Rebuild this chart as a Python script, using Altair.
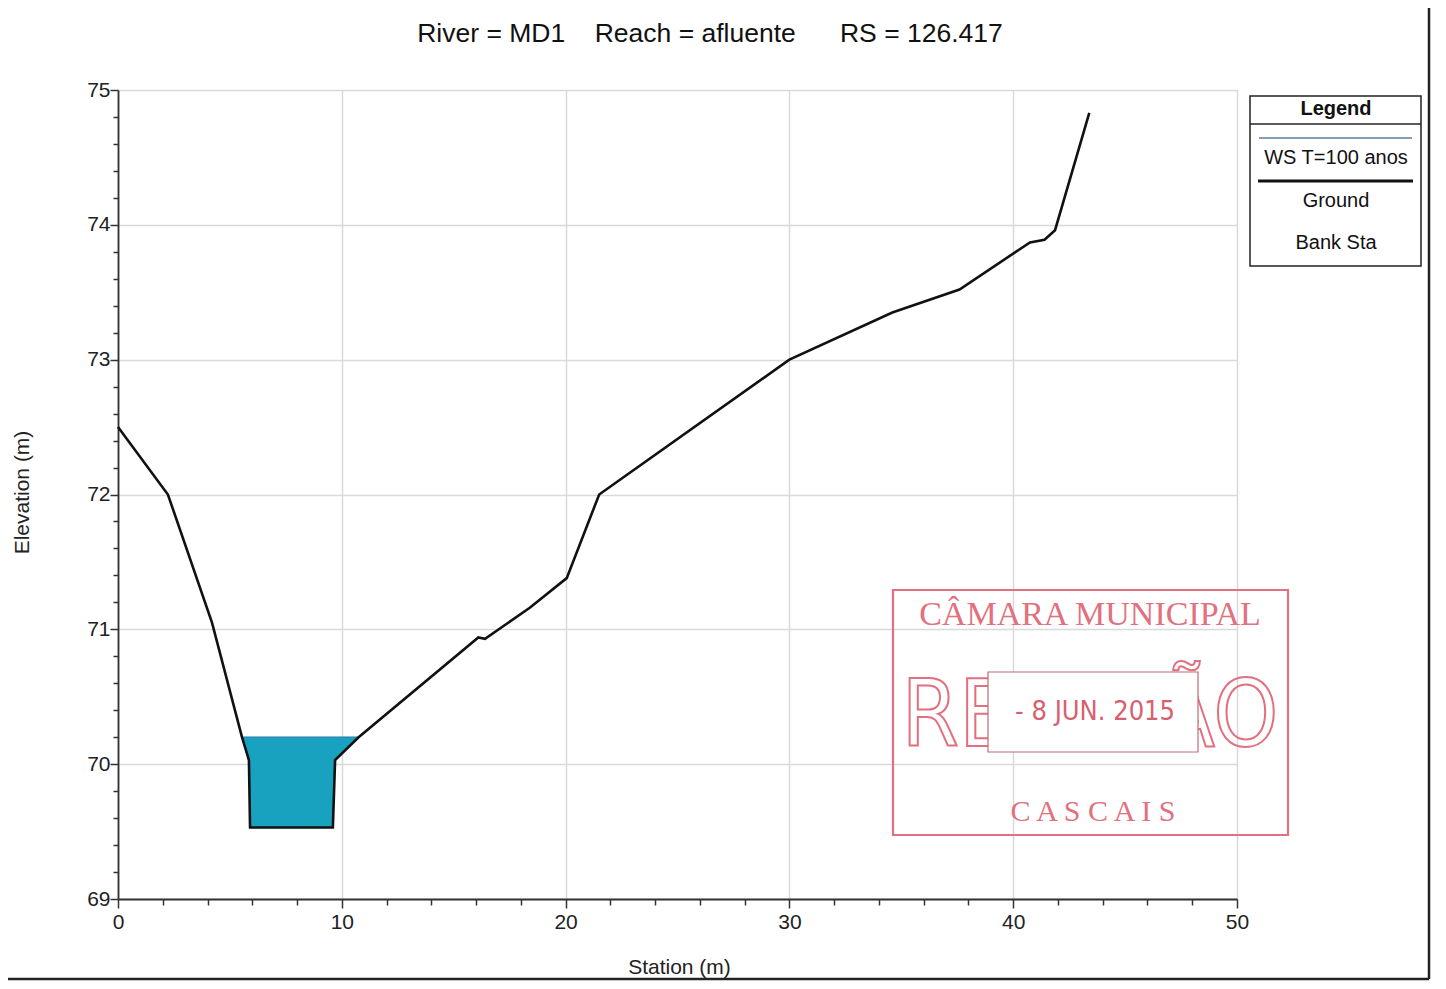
import altair as alt
import pandas as pd

# ---- data ----
STATION = [0, 2.23, 4.2, 5.54, 5.85, 5.9, 9.6, 9.7, 10.75, 16.1, 16.4, 18.4, 20.05,
           21.5, 30.0, 34.6, 37.6, 40.75, 41.4, 41.87, 43.4]
GROUND = [72.5, 72.0, 71.05, 70.2, 70.03, 69.53, 69.53, 70.03, 70.2, 70.94, 70.93,
          71.16, 71.38, 72.0, 73.0, 73.35, 73.52, 73.87, 73.89, 73.96, 74.83]
WS_ELEV = 70.2

X_TICKS = [0, 2, 4, 6, 8, 10, 12, 14, 16, 18, 20, 22, 24, 26, 28, 30, 32, 34, 36, 38,
           40, 42, 44, 46, 48, 50]
Y_TICKS = [69, 69.2, 69.4, 69.6, 69.8, 70, 70.2, 70.4, 70.6, 70.8, 71, 71.2, 71.4, 71.6,
           71.8, 72, 72.2, 72.4, 72.6, 72.8, 73, 73.2, 73.4, 73.6, 73.8, 74, 74.2, 74.4,
           74.6, 74.8, 75]

TITLE = "River = MD1\u00a0\u00a0\u00a0\u00a0Reach = afluente\u00a0\u00a0\u00a0\u00a0\u00a0\u00a0RS = 126.417"
LEGEND_TITLE = "Legend"
LEGEND_ITEMS = ["WS T=100 anos", "Ground", "Bank Sta"]
STAMP_TEXTS = ["CÂMARA MUNICIPAL", "REUNIÃO", "- 8 JUN. 2015", "C A S C A I S"]

FONT = "Liberation Sans"
COND = "DejaVu Sans Condensed, Liberation Sans"
W, H = 1119, 809

ground = pd.DataFrame({"station": STATION, "elev": GROUND})
water = ground[ground["elev"] <= WS_ELEV].copy()
water["ws"] = WS_ELEV
dummy = pd.DataFrame({"d": [0]})

xscale = alt.Scale(domain=[0, 50], nice=False, zero=False)
yscale = alt.Scale(domain=[69, 75], nice=False, zero=False)

xaxis = alt.Axis(
    values=X_TICKS, tickCount=100, title="Station (m)", grid=True,
    gridColor="#d9d9d9", gridWidth=1.5,
    gridOpacity={"condition": {"test": "datum.value % 10 === 0", "value": 1}, "value": 0},
    tickSize={"condition": {"test": "datum.value % 10 === 0", "value": 9}, "value": 6},
    labelExpr="datum.value % 10 === 0 ? format(datum.value, 'd') : ''",
    labelOverlap=False, labelFlush=False,
    tickColor="#333", tickWidth=1.5, domainColor="#333", domainWidth=1.8,
    labelFont=FONT, labelFontSize=21, labelColor="#222", labelPadding=3,
    titleFont=FONT, titleFontSize=21, titleFontWeight="normal", titleColor="#222",
    titleX=561, titleY=68, titleBaseline="middle", titleAnchor="start", titleAlign="center",
)
yaxis = alt.Axis(
    values=Y_TICKS, tickCount=100, title="Elevation (m)", grid=True,
    gridColor="#d9d9d9", gridWidth=1.5,
    gridOpacity={"condition": {"test": "datum.value % 1 === 0", "value": 1}, "value": 0},
    tickSize={"condition": {"test": "datum.value % 1 === 0", "value": 8}, "value": 5},
    labelExpr="datum.value % 1 === 0 ? format(datum.value, 'd') : ''",
    labelOverlap=False, labelFlush=False,
    tickColor="#333", tickWidth=1.5, domainColor="#333", domainWidth=1.8,
    labelFont=FONT, labelFontSize=21, labelColor="#222", labelPadding=0,
    titleFont=FONT, titleFontSize=21, titleFontWeight="normal", titleColor="#222",
    titleX=-96, titleY=402, titleBaseline="middle", titleAngle=-90,
)

water_area = alt.Chart(water).mark_area(color="#19A2C0", opacity=1).encode(
    x=alt.X("station:Q", scale=xscale, axis=xaxis),
    y=alt.Y("elev:Q", scale=yscale, axis=yaxis),
    y2="ws:Q",
)
ws_line = alt.Chart(water).mark_line(color="#1a7fa8", strokeWidth=1.2).encode(
    x="station:Q", y="ws:Q"
)
ground_line = alt.Chart(ground).mark_line(color="#111", strokeWidth=2.6).encode(
    x="station:Q", y="elev:Q"
)

def deco_rect(x1, x2, y1, y2, stroke, sw, fill=None):
    kw = dict(stroke=stroke, strokeWidth=sw)
    if fill is None:
        kw["fillOpacity"] = 0
        kw["fill"] = "white"
    else:
        kw["fill"] = fill
    return alt.Chart(dummy).mark_rect(**kw).encode(
        x=alt.value(x1), x2=alt.value(x2), y=alt.value(y1), y2=alt.value(y2))

def deco_rule(x1, x2, y1, y2, color, sw):
    return alt.Chart(dummy).mark_rule(color=color, strokeWidth=sw).encode(
        x=alt.value(x1), x2=alt.value(x2), y=alt.value(y1), y2=alt.value(y2))

def deco_text(x, y, txt, size, color="#111", font=FONT, weight="normal",
              baseline="middle", **kw):
    return alt.Chart(dummy).mark_text(
        text=txt, font=font, fontSize=size, color=color, fontWeight=weight,
        align="center", baseline=baseline, **kw).encode(x=alt.value(x), y=alt.value(y))

title = deco_text(592, -48, TITLE, 26.5, color="#111", baseline="alphabetic")

# legend box
legend = [
    deco_rect(1132, 1303, 6, 176, "#222", 1.5),
    deco_rule(1132, 1303, 34, 34, "#222", 1.5),
    deco_text(1218, 19, LEGEND_TITLE, 20, weight="bold"),
    deco_rule(1141, 1294, 48, 48, "#5d7d9a", 1.5),
    deco_text(1218, 68, LEGEND_ITEMS[0], 20),
    deco_rule(1140, 1295, 91, 91, "#111", 3),
    deco_text(1218, 111, LEGEND_ITEMS[1], 20),
    deco_text(1218, 153, LEGEND_ITEMS[2], 20),
]

# stamp
RED = "#e2707e"
stamp = [
    deco_rect(775, 1170, 500, 745, RED, 2.2),
    deco_text(972, 525, STAMP_TEXTS[0], 34, color=RED, font="Liberation Serif"),
    alt.Chart(dummy).mark_text(
        text=STAMP_TEXTS[1], font=COND, fontSize=92,
        fill="white", fillOpacity=0, stroke=RED, strokeWidth=2,
        align="center", baseline="middle").encode(x=alt.value(972), y=alt.value(628)),
    deco_rect(870, 1080, 582, 662, "#c46a74", 1.2, fill="white"),
    deco_text(977, 622, STAMP_TEXTS[2], 27, color="#d8606e", font=COND),
    deco_text(975, 722, STAMP_TEXTS[3], 30, color=RED, font="Liberation Serif"),
]

# page frame
frame = [
    deco_rule(1311, 1311, -82, 889, "#222", 2.5),
    deco_rule(-110, 1311, 889, 889, "#222", 2.5),
]

chart = alt.layer(
    water_area, ws_line, ground_line, title, *legend, *stamp, *frame
).properties(
    width=W, height=H,
    autosize=alt.AutoSizeParams(type="none"),
    padding={"left": 110, "top": 82, "right": 201, "bottom": 82},
).configure_view(stroke=None).configure(background="white")

chart.save("out.html", embed_options={"renderer": "svg", "actions": False})
